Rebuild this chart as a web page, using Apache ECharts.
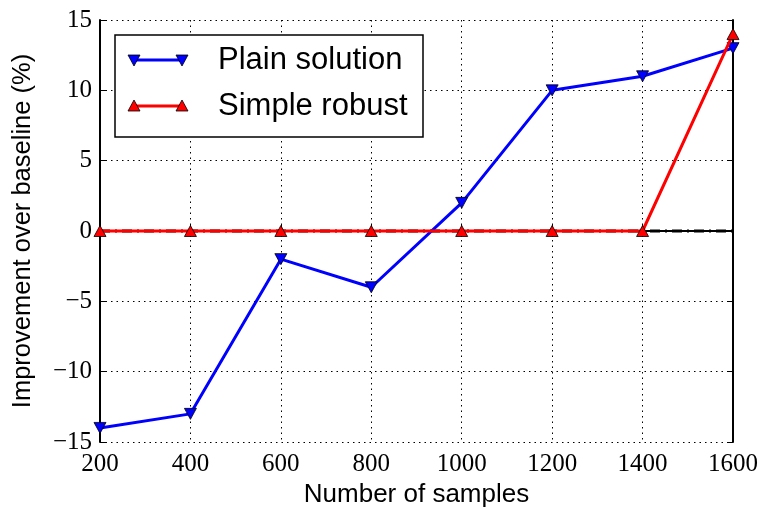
<!DOCTYPE html>
<html>
<head>
<meta charset="utf-8">
<script src="https://cdn.jsdelivr.net/npm/echarts@6/dist/echarts.min.js"></script>
<style>
  html, body { margin: 0; padding: 0; background: #fff; }
  #chart { width: 761px; height: 508px; }
</style>
</head>
<body>
<div id="chart"></div>
<script>
// Sample counts along the x axis
const samples = [200, 400, 600, 800, 1000, 1200, 1400, 1600];
// Improvement over the baseline, in percent
const plainSolution = [-14, -13, -2, -4, 2, 10, 11, 13];
const simpleRobust = [0, 0, 0, 0, 0, 0, 0, 14];
const baseline = [0, 0, 0, 0, 0, 0, 0, 0];
// Axis ranges and tick steps
const xRange = [200, 1600, 200];
const yRange = [-15, 15, 5];
const seriesNames = ['Plain solution', 'Simple robust'];

const tickFont = 'Liberation Serif';
const textFont = 'Liberation Sans';
const plainNum = v => String(v).replace('-', '\u2212');

const pairs = vals => samples.map((x, i) => [x, vals[i]]);

const chart = echarts.init(document.getElementById('chart'), null, { renderer: 'canvas' });

const axisCommon = {
  axisLine: { show: true, lineStyle: { color: '#000', width: 2 } },
  axisTick: { show: true, inside: true, length: 6, lineStyle: { color: '#000', width: 1 } },
  splitLine: { show: false }
};

const gridLine = { show: true, lineStyle: { color: '#000', width: 1, type: [1.5, 4] } };

// Legend box drawn with graphic primitives (line with a marker at both ends)
function legendRow(y, color, down, label) {
  const tri = cx => ({
    type: 'polygon',
    shape: {
      points: down
        ? [[cx - 6, y - 5], [cx + 6, y - 5], [cx, y + 6]]
        : [[cx - 6, y + 5], [cx + 6, y + 5], [cx, y - 6]]
    },
    style: { fill: color, stroke: '#000', lineWidth: 0.8 },
    z: 101
  });
  return [
    { type: 'line', shape: { x1: 134, y1: y, x2: 182, y2: y }, style: { stroke: color, lineWidth: 3 }, z: 100 },
    tri(134), tri(182),
    { type: 'text', x: 218, y: y, style: { text: label, font: '31px ' + textFont, fill: '#000', textVerticalAlign: 'middle' }, z: 101 }
  ];
}

chart.setOption({
  animation: false,
  backgroundColor: '#fff',
  grid: { left: 100, right: 28, top: 20, bottom: 66, containLabel: false, outerBoundsMode: 'none' },
  xAxis: [
    Object.assign({}, axisCommon, {
      type: 'value', min: xRange[0], max: xRange[1], interval: xRange[2],
      position: 'bottom',
      name: 'Number of samples', nameLocation: 'middle', nameGap: 38,
      nameTextStyle: { fontFamily: textFont, fontSize: 26, color: '#000' },
      axisLabel: { fontFamily: tickFont, fontSize: 25, color: '#000', margin: 10, formatter: plainNum },
      splitLine: gridLine
    }),
    Object.assign({}, axisCommon, {
      type: 'value', min: xRange[0], max: xRange[1], interval: xRange[2],
      position: 'top', axisLabel: { show: false }
    })
  ],
  yAxis: [
    Object.assign({}, axisCommon, {
      type: 'value', min: yRange[0], max: yRange[1], interval: yRange[2],
      position: 'left',
      name: 'Improvement over baseline (%)', nameLocation: 'middle', nameGap: 64,
      nameTextStyle: { fontFamily: textFont, fontSize: 25.5, color: '#000' },
      axisLabel: { fontFamily: tickFont, fontSize: 25, color: '#000', margin: 8, formatter: plainNum },
      splitLine: gridLine
    }),
    Object.assign({}, axisCommon, {
      type: 'value', min: yRange[0], max: yRange[1], interval: yRange[2],
      position: 'right', axisLabel: { show: false }
    })
  ],
  series: [
    {
      name: 'baseline', type: 'line', data: pairs(baseline),
      symbol: 'none', lineStyle: { color: '#000', width: 3, type: [10, 5, 2, 5] }, z: 2
    },
    {
      name: seriesNames[0], type: 'line', data: pairs(plainSolution),
      symbol: 'triangle', symbolRotate: 180, symbolSize: [12, 11],
      itemStyle: { color: '#0000ff', borderColor: '#000', borderWidth: 0.8 },
      lineStyle: { color: '#0000ff', width: 3 }, z: 3
    },
    {
      name: seriesNames[1], type: 'line', data: pairs(simpleRobust),
      symbol: 'triangle', symbolSize: [12, 11],
      itemStyle: { color: '#ff0000', borderColor: '#000', borderWidth: 0.8 },
      lineStyle: { color: '#ff0000', width: 3 }, z: 4
    }
  ],
  graphic: [
    { type: 'rect', shape: { x: 115, y: 35, width: 308, height: 102 }, style: { fill: '#fff', stroke: '#000', lineWidth: 1.5 }, z: 99 }
  ].concat(legendRow(60, '#0000ff', true, seriesNames[0]), legendRow(106, '#ff0000', false, seriesNames[1]))
});
</script>
</body>
</html>
